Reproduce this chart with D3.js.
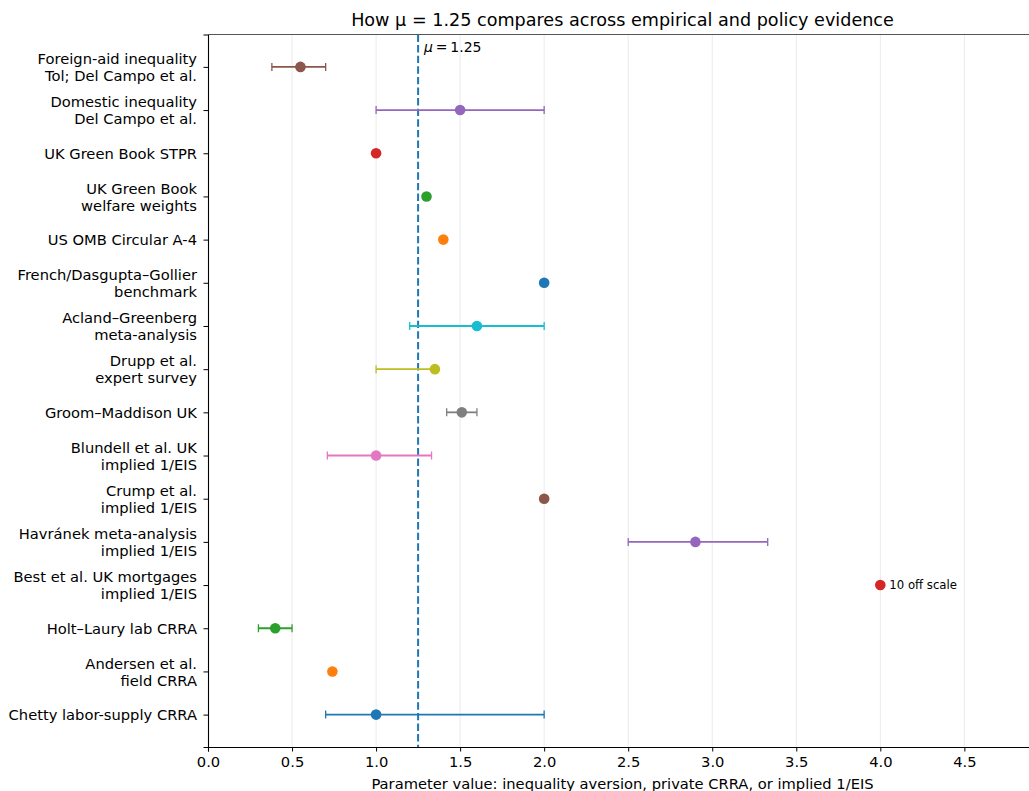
<!DOCTYPE html>
<html>
<head>
<meta charset="utf-8">
<script src="https://cdn.jsdelivr.net/npm/d3@7"></script>
<style>
  html, body { margin: 0; padding: 0; background: #fff; }
  svg { display: block; font-family: "DejaVu Sans", sans-serif; }
</style>
</head>
<body>
<svg id="chart" width="1029" height="791"></svg>
<script>
// Studies, listed top to bottom
const labels = [
  ["Foreign-aid inequality", "Tol; Del Campo et al."],
  ["Domestic inequality", "Del Campo et al."],
  ["UK Green Book STPR"],
  ["UK Green Book", "welfare weights"],
  ["US OMB Circular A-4"],
  ["French/Dasgupta\u2013Gollier", "benchmark"],
  ["Acland\u2013Greenberg", "meta-analysis"],
  ["Drupp et al.", "expert survey"],
  ["Groom\u2013Maddison UK"],
  ["Blundell et al. UK", "implied 1/EIS"],
  ["Crump et al.", "implied 1/EIS"],
  ["Havr\u00e1nek meta-analysis", "implied 1/EIS"],
  ["Best et al. UK mortgages", "implied 1/EIS"],
  ["Holt\u2013Laury lab CRRA"],
  ["Andersen et al.", "field CRRA"],
  ["Chetty labor-supply CRRA"]
];
// Central estimates (Best et al. is 10, drawn at the 4.0 edge)
const values = [0.55, 1.5, 1.0, 1.3, 1.4, 2.0, 1.6, 1.35, 1.51, 1.0, 2.0, 2.9, 4.0, 0.4, 0.74, 1.0];
// Ranges (null where only a point estimate exists)
const lows  = [0.38, 1.0, null, null, null, null, 1.2, 1.0, 1.42, 0.71, null, 2.5, null, 0.3, null, 0.7];
const highs = [0.70, 2.0, null, null, null, null, 2.0, 1.35, 1.6, 1.33, null, 3.33, null, 0.5, null, 2.0];
const notes = [null, null, null, null, null, null, null, null, null, null, null, null, "10 off scale", null, null, null];
const xTicks = [0, 0.5, 1.0, 1.5, 2.0, 2.5, 3.0, 3.5, 4.0, 4.5];
const mu = 1.25;

const palette = ["#1f77b4", "#ff7f0e", "#2ca02c", "#d62728", "#9467bd",
                 "#8c564b", "#e377c2", "#7f7f7f", "#bcbd22", "#17becf"];
const n = labels.length;
const colorOf = i => palette[(n - 1 - i) % 10];

const svg = d3.select("#chart");
const plotLeft = 208, plotRight = 1040, plotTop = 34.5, plotBottom = 747;
const fs = 14.7;

const x = d3.scaleLinear().domain([0, 4.95]).range([plotLeft, plotRight]);
const y = d3.scaleLinear().domain([-0.75, n - 0.25]).range([plotTop, plotBottom]);

// vertical grid
svg.append("g").selectAll("line").data(xTicks.filter(t => t > 0)).join("line")
  .attr("x1", d => x(d)).attr("x2", d => x(d))
  .attr("y1", plotTop).attr("y2", plotBottom)
  .attr("stroke", "#ebebeb").attr("stroke-width", 1);

// reference line at mu
svg.append("line")
  .attr("x1", x(mu)).attr("x2", x(mu)).attr("y1", plotTop).attr("y2", plotBottom)
  .attr("stroke", "#1f77b4").attr("stroke-width", 2)
  .attr("stroke-dasharray", "7.4,3.2");

const muLabel = svg.append("text")
  .attr("x", x(mu) + 6).attr("y", 52)
  .attr("font-size", 14).attr("fill", "#000");
muLabel.append("tspan").attr("font-style", "italic").text("\u03bc");
muLabel.append("tspan").text("\u2009=\u20091.25");

// error bars
const rows = d3.range(n).map(i => ({i, v: values[i], lo: lows[i], hi: highs[i], note: notes[i]}));
const eb = svg.append("g").selectAll("g").data(rows.filter(r => r.lo !== null)).join("g")
  .attr("stroke", r => colorOf(r.i)).attr("stroke-width", 1.8).attr("fill", "none");
eb.append("line")
  .attr("x1", r => x(r.lo)).attr("x2", r => x(r.hi))
  .attr("y1", r => y(r.i)).attr("y2", r => y(r.i));
eb.append("line")
  .attr("x1", r => x(r.lo)).attr("x2", r => x(r.lo))
  .attr("y1", r => y(r.i) - 4).attr("y2", r => y(r.i) + 4).attr("stroke-width", 1.3);
eb.append("line")
  .attr("x1", r => x(r.hi)).attr("x2", r => x(r.hi))
  .attr("y1", r => y(r.i) - 4).attr("y2", r => y(r.i) + 4).attr("stroke-width", 1.3);

// point estimates
svg.append("g").selectAll("circle").data(rows).join("circle")
  .attr("cx", r => x(r.v)).attr("cy", r => y(r.i)).attr("r", 5.3)
  .attr("fill", r => colorOf(r.i));

// off-scale note
svg.append("g").selectAll("text").data(rows.filter(r => r.note)).join("text")
  .attr("x", r => x(r.v) + 9).attr("y", r => y(r.i)).attr("dy", "0.35em")
  .attr("font-size", 11.7).attr("fill", "#000").text(r => r.note);

// x axis
const xAxis = svg.append("g").attr("transform", `translate(0,${plotBottom})`)
  .call(d3.axisBottom(x).tickValues(xTicks).tickFormat(d3.format(".1f")).tickSizeOuter(0).tickSize(4.5));
xAxis.select(".domain").attr("stroke", "#000").attr("stroke-width", 1.1);
xAxis.selectAll(".tick line").attr("stroke", "#000").attr("stroke-width", 1);
xAxis.selectAll(".tick text").attr("font-size", fs).attr("font-family", "DejaVu Sans").attr("fill", "#000").attr("dy", "0.85em");

// y axis with multi-line labels
const yAxis = svg.append("g").attr("transform", `translate(${plotLeft},0)`)
  .call(d3.axisLeft(y).tickValues(d3.range(n)).tickFormat("").tickSizeOuter(0).tickSize(4.5));
yAxis.select(".domain").attr("stroke", "#000").attr("stroke-width", 1.1);
yAxis.selectAll(".tick line").attr("stroke", "#000").attr("stroke-width", 1);
yAxis.selectAll(".tick").each(function(d) {
  const lines = labels[d];
  const t = d3.select(this).append("text")
    .attr("x", -11).attr("text-anchor", "end")
    .attr("font-size", fs).attr("font-family", "DejaVu Sans").attr("fill", "#000");
  const lh = 17;
  const start = -(lines.length - 1) * lh / 2;
  lines.forEach((s, k) => {
    t.append("tspan").attr("x", -11).attr("y", start + k * lh).attr("dy", "0.35em").text(s);
  });
});

// top spine
svg.append("line").attr("x1", plotLeft).attr("x2", 1029).attr("y1", plotTop).attr("y2", plotTop)
  .attr("stroke", "#555").attr("stroke-width", 1.1);

// titles
svg.append("text").attr("x", (plotLeft + 1037) / 2).attr("y", 26).attr("text-anchor", "middle")
  .attr("font-size", 17.6).attr("fill", "#000")
  .text("How \u03bc = 1.25 compares across empirical and policy evidence");
svg.append("text").attr("x", (plotLeft + 1037) / 2).attr("y", 789).attr("text-anchor", "middle")
  .attr("font-size", fs).attr("fill", "#000")
  .text("Parameter value: inequality aversion, private CRRA, or implied 1/EIS");
</script>
</body>
</html>
